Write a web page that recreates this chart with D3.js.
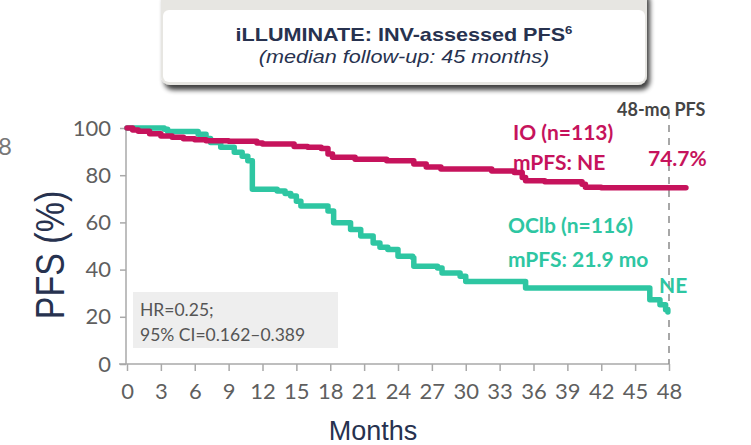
<!DOCTYPE html>
<html>
<head>
<meta charset="utf-8">
<script src="https://cdn.jsdelivr.net/npm/d3@7/dist/d3.min.js"></script>
<style>
  html, body { margin: 0; padding: 0; background: #ffffff; }
  svg { display: block; }
</style>
</head>
<body>
<svg id="chart" width="751" height="445"></svg>
<script>
// Kaplan–Meier step points: [month, PFS %]
const ioCurve = [
  [0,100],[0.5,99.2],[1,98.6],[2,97.6],[3,96.6],[4,96.1],[5,95.4],[6,95.0],
  [7,94.6],[9,94.4],[11.5,93.6],[12,93.2],[14.8,92.2],[16,91.8],[17.2,91.3],
  [17.8,89.0],[18.2,87.6],[20.2,86.8],[23,86.1],[25.4,84.7],[26.5,83.5],
  [27.8,82.6],[32.3,81.8],[34.3,81.1],[35,79.0],[35.3,77.6],[37,77.2],
  [40.3,76.2],[40.6,74.9],[42,74.7],[49.5,74.7]
];
const oclbCurve = [
  [0,100],[3.3,99.5],[3.6,98.5],[5.9,98.5],[6.3,97.4],[7,95.5],[7.4,93.9],
  [8.3,91.8],[9.5,89.7],[10.2,88.0],[10.7,86.1],[11.1,74.0],[13.3,73.3],
  [14,72.2],[14.5,71.2],[15,69.0],[15.4,66.9],[17.8,64.8],[18.3,59.9],
  [19.8,57.0],[20.7,54.2],[21.8,51.3],[22.4,49.5],[23.1,48.5],[24,45.7],
  [25.3,45.0],[25.4,41.4],[27.5,40.7],[27.9,38.6],[29.5,37.2],[30,35.0],
  [35.1,35.0],[35.3,32.2],[46.1,32.2],[46.3,27.2],[47.2,25.1],[47.7,23.0],[47.9,22.0]
];
const xTicks = [0,3,6,9,12,15,18,21,24,27,30,33,36,39,42,45,48];
const yTicks = [0,20,40,60,80,100];
const landmarkMonth = 48;

const ioLabels = ["IO (n=113)", "mPFS: NE"];
const oclbLabels = ["OClb (n=116)", "mPFS: 21.9 mo"];
const ioLandmark = "74.7%";
const oclbLandmark = "NE";
const hrLines = ["HR=0.25;", "95% CI=0.162\u20130.389"];
const titleMain = "iLLUMINATE: INV-assessed PFS";
const titleSup = "6";
const titleSub = "(median follow-up: 45 months)";

const red = "#c6135c";
const teal = "#2ec6a2";
const axisGrey = "#a9a9a9";
const tickText = "#5f5f5f";
const navy = "#27324f";
const uiFont = "Lato, 'Open Sans', sans-serif";
const headFont = "Arial, 'Liberation Sans', sans-serif";

const svg = d3.select("#chart");

const x = d3.scaleLinear().domain([0, 48]).range([127, 669]);
const y = d3.scaleLinear().domain([0, 100]).range([364, 128]);

// drop shadow for the heading card
const defs = svg.append("defs");
const f = defs.append("filter").attr("id", "cardShadow")
  .attr("x", "-5%").attr("y", "-20%").attr("width", "115%").attr("height", "150%");
f.append("feGaussianBlur").attr("in", "SourceAlpha").attr("stdDeviation", 2.5);
f.append("feOffset").attr("dx", 3).attr("dy", 5).attr("result", "off");
f.append("feComponentTransfer").append("feFuncA").attr("type", "linear").attr("slope", 0.75);
const fm = f.append("feMerge");
fm.append("feMergeNode");
fm.append("feMergeNode").attr("in", "SourceGraphic");

// heading card
svg.append("rect")
  .attr("x", 161).attr("y", -12).attr("width", 486).attr("height", 97)
  .attr("rx", 9).attr("fill", "#e7e6e2")
  .attr("filter", "url(#cardShadow)");
svg.append("rect")
  .attr("x", 163).attr("y", 10).attr("width", 482).attr("height", 72)
  .attr("rx", 6).attr("fill", "#ffffff");

const t1 = svg.append("text")
  .attr("transform", "translate(404,41) scale(1.2,1)")
  .attr("text-anchor", "middle")
  .attr("font-family", headFont)
  .attr("font-weight", "bold").attr("font-size", 18)
  .attr("fill", navy);
t1.append("tspan").text(titleMain);
t1.append("tspan").attr("dy", -7).attr("font-size", 11).text(titleSup);

svg.append("text")
  .attr("transform", "translate(404,63) scale(1.2,1)")
  .attr("text-anchor", "middle")
  .attr("font-family", headFont)
  .attr("font-style", "italic").attr("font-size", 18)
  .attr("fill", navy)
  .text(titleSub);

// cut-off glyph at the far left edge
svg.append("text")
  .attr("x", -2).attr("y", 155)
  .attr("font-family", uiFont).attr("font-size", 24)
  .attr("fill", "#777").text("8");

// hazard ratio panel
const hr = svg.append("g");
hr.append("rect")
  .attr("x", 133).attr("y", 292).attr("width", 205).attr("height", 56)
  .attr("fill", "#eeeeee");
hr.selectAll("text").data(hrLines).join("text")
  .attr("x", 140).attr("y", (d, i) => 316 + i * 25)
  .attr("font-family", uiFont).attr("font-size", 17.5)
  .attr("fill", "#555").text(d => d);

// y axis
const yAxis = d3.axisLeft(y).tickValues(yTicks).tickSize(6).tickPadding(9);
const gy = svg.append("g").attr("transform", `translate(${x(0) - 1},0)`).call(yAxis);
gy.select(".domain").attr("stroke", axisGrey).attr("stroke-width", 1.5).attr("d", `M0,${y(100)}V${y(0)}`);
gy.selectAll(".tick line").attr("stroke", axisGrey).attr("stroke-width", 1.5);
gy.selectAll(".tick text").attr("font-family", uiFont).attr("font-size", 22)
  .attr("fill", tickText);

// x axis
const xAxis = d3.axisBottom(x).tickValues(xTicks).tickSize(7).tickPadding(12);
const gx = svg.append("g").attr("transform", `translate(0,${y(0)})`).call(xAxis);
gx.select(".domain").attr("stroke", axisGrey).attr("stroke-width", 1.5)
  .attr("d", `M${x(0) - 8},0H${x(48)}`);
gx.selectAll(".tick line").attr("stroke", axisGrey).attr("stroke-width", 1.5);
gx.selectAll(".tick text").attr("font-family", uiFont).attr("font-size", 22)
  .attr("fill", tickText);

// axis titles
svg.append("text")
  .attr("transform", "translate(64,255) scale(1.2,1) rotate(-90)")
  .attr("text-anchor", "middle")
  .attr("font-family", headFont)
  .attr("font-size", 34).attr("fill", navy)
  .text("PFS (%)");
svg.append("text")
  .attr("x", 373).attr("y", 440)
  .attr("text-anchor", "middle")
  .attr("font-family", headFont)
  .attr("font-size", 27).attr("fill", navy)
  .text("Months");

// 48-month landmark
svg.append("line")
  .attr("x1", x(landmarkMonth)).attr("x2", x(landmarkMonth))
  .attr("y1", 112).attr("y2", y(0))
  .attr("stroke", "#8a8a8a").attr("stroke-width", 1.5)
  .attr("stroke-dasharray", "7,6");
svg.append("text")
  .attr("x", 617).attr("y", 116)
  .attr("font-family", uiFont).attr("font-weight", "bold").attr("font-size", 18)
  .attr("fill", "#454545").text("48-mo PFS");

// survival curves
const line = d3.line().x(d => x(d[0])).y(d => y(d[1])).curve(d3.curveStepAfter);
svg.append("path").datum(oclbCurve).attr("d", line)
  .attr("fill", "none").attr("stroke", teal).attr("stroke-width", 5.5)
  .attr("stroke-linejoin", "round").attr("stroke-linecap", "round");
svg.append("path").datum(ioCurve).attr("d", line)
  .attr("fill", "none").attr("stroke", red).attr("stroke-width", 5.5)
  .attr("stroke-linejoin", "round").attr("stroke-linecap", "round");

// group annotations
const noteSize = 21;
svg.selectAll("text.io").data(ioLabels).join("text").attr("class", "io")
  .attr("x", 513).attr("y", (d, i) => 140 + i * 30)
  .attr("font-family", uiFont).attr("font-weight", "bold").attr("font-size", noteSize)
  .attr("fill", red).text(d => d);
svg.append("text")
  .attr("x", 648).attr("y", 166)
  .attr("font-family", uiFont).attr("font-weight", "bold").attr("font-size", noteSize)
  .attr("fill", red).text(ioLandmark);
svg.selectAll("text.oc").data(oclbLabels).join("text").attr("class", "oc")
  .attr("x", 508).attr("y", (d, i) => 233 + i * 34)
  .attr("font-family", uiFont).attr("font-weight", "bold").attr("font-size", noteSize)
  .attr("fill", teal).text(d => d);
svg.append("text")
  .attr("x", 659).attr("y", 293)
  .attr("font-family", uiFont).attr("font-weight", "bold").attr("font-size", noteSize)
  .attr("fill", teal).text(oclbLandmark);
</script>
</body>
</html>
